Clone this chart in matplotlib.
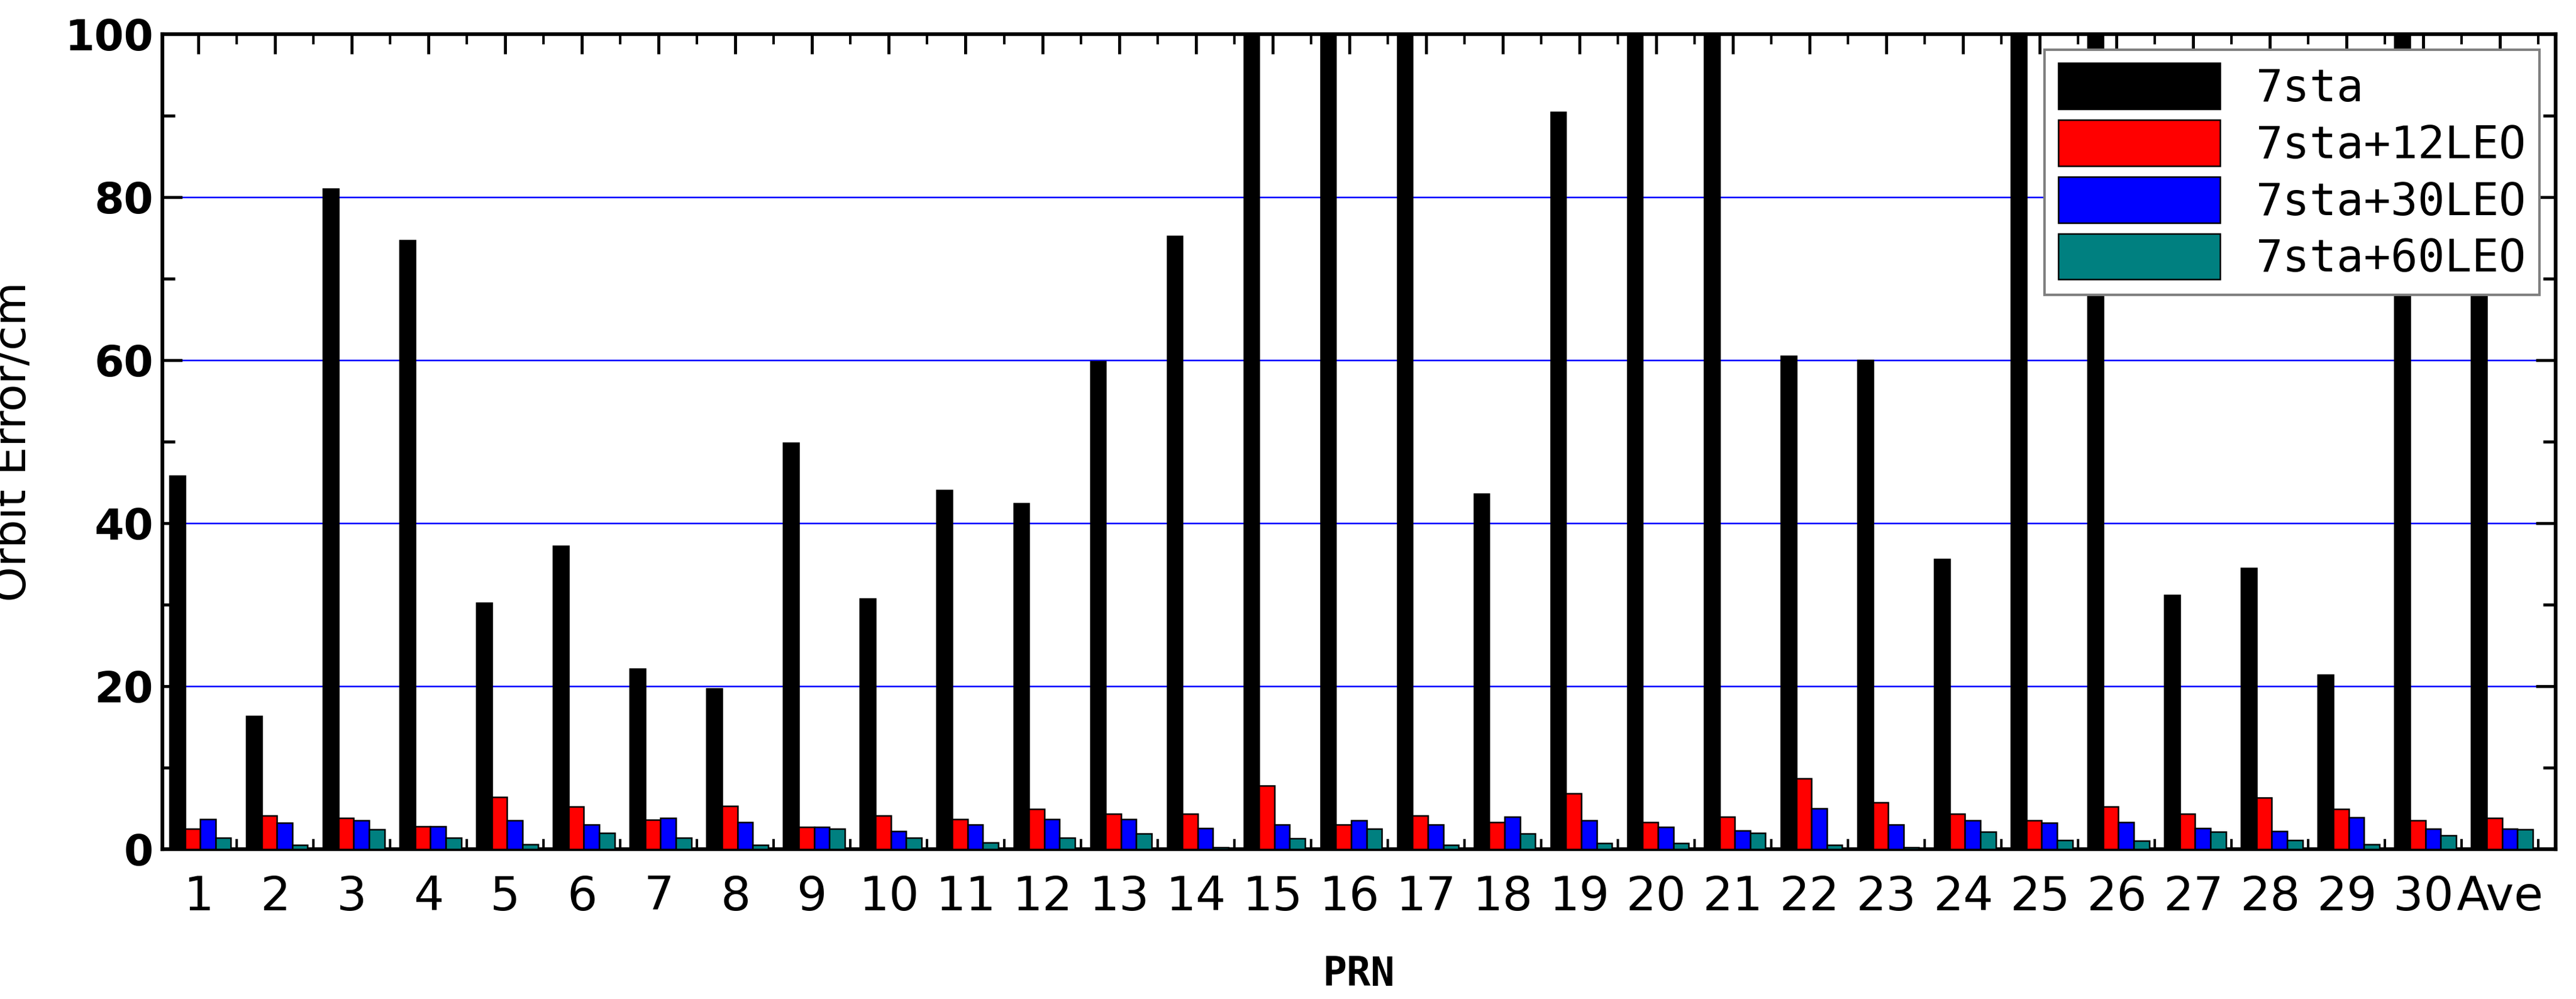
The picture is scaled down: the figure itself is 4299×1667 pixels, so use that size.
import numpy as np
import matplotlib.pyplot as plt
from matplotlib.ticker import MultipleLocator

labels = [str(i) for i in range(1, 31)] + ["Ave"]
sta7 = [45.8, 16.3, 81.0, 74.7, 30.2, 37.2, 22.1, 19.7, 49.8, 30.7,
        44.0, 42.4, 59.8, 75.2, 120, 120, 120, 43.6, 90.4, 120,
        120, 60.5, 60.0, 35.6, 120, 120, 31.2, 34.5, 21.4, 120, 75.0]
leo12 = [2.5, 4.1, 3.8, 2.8, 6.4, 5.2, 3.6, 5.3, 2.7, 4.1,
         3.7, 4.9, 4.3, 4.3, 7.8, 3.0, 4.1, 3.3, 6.8, 3.3,
         4.0, 8.7, 5.7, 4.3, 3.5, 5.2, 4.3, 6.3, 4.9, 3.5, 3.8]
leo30 = [3.7, 3.2, 3.5, 2.8, 3.5, 3.0, 3.8, 3.3, 2.7, 2.2,
         3.0, 3.7, 3.7, 2.6, 3.0, 3.5, 3.0, 4.0, 3.5, 2.7,
         2.3, 5.0, 3.0, 3.5, 3.2, 3.3, 2.6, 2.2, 3.9, 2.5, 2.5]
leo60 = [1.4, 0.5, 2.4, 1.4, 0.6, 2.0, 1.4, 0.5, 2.5, 1.4,
         0.8, 1.4, 1.9, 0.2, 1.3, 2.5, 0.5, 1.9, 0.7, 0.7,
         2.0, 0.5, 0.2, 2.1, 1.1, 1.0, 2.1, 1.1, 0.6, 1.7, 2.4]
series = [("7sta", sta7, "black"), ("7sta+12LEO", leo12, "red"),
          ("7sta+30LEO", leo30, "blue"), ("7sta+60LEO", leo60, "#008080")]

plt.rcParams["font.family"] = ["DejaVu Sans Mono"]
fig, ax = plt.subplots(figsize=(14.33, 5.557), dpi=300)
fig.subplots_adjust(left=0.063, right=0.992, top=0.966, bottom=0.15)

x = np.arange(1, len(labels) + 1)
w = 0.2
for k, (name, vals, col) in enumerate(series):
    ax.bar(x - 0.375 + k * w, vals, w, color=col, edgecolor="black",
           linewidth=0.6, label=name, align="edge", zorder=3)

ax.set_ylim(0, 100)
ax.set_xlim(0.53, 31.72)
ax.set_xticks(x)
ax.set_xticks(x + 0.5, minor=True)
ax.set_xticklabels(labels, family=["Liberation Sans Narrow", "DejaVu Sans"], fontsize=19)
ax.tick_params(axis="x", which="major", direction="in", top=True, bottom=False,
               length=8, width=1.2, pad=10)
ax.tick_params(axis="x", which="minor", direction="in", top=True, bottom=True,
               length=4, width=1.0)
ax.yaxis.set_major_locator(MultipleLocator(20))
ax.yaxis.set_minor_locator(MultipleLocator(10))
ax.tick_params(axis="y", which="both", direction="in", right=True, labelsize=17, width=1.2)
ax.tick_params(axis="y", which="major", length=8)
ax.tick_params(axis="y", which="minor", length=5)
for lab in ax.get_yticklabels():
    lab.set_family(["DejaVu Sans"])
    lab.set_fontweight("bold")
ax.grid(axis="y", color="blue", linewidth=0.6, zorder=0)
for s in ax.spines.values():
    s.set_linewidth(1.5)
ax.set_ylabel("Orbit Error/cm", fontsize=18, labelpad=12,
              family=["Liberation Sans Narrow", "DejaVu Sans"])
ax.set_xlabel("PRN", fontsize=16, fontweight="bold", labelpad=14)
leg = ax.legend(loc="upper right", fontsize=18, fancybox=False, framealpha=1,
                edgecolor="gray", borderaxespad=0.35, handlelength=3.6,
                handleheight=1.2, labelspacing=0.2, borderpad=0.3)
leg.get_frame().set_linewidth(1.0)
fig.savefig("out.png")
